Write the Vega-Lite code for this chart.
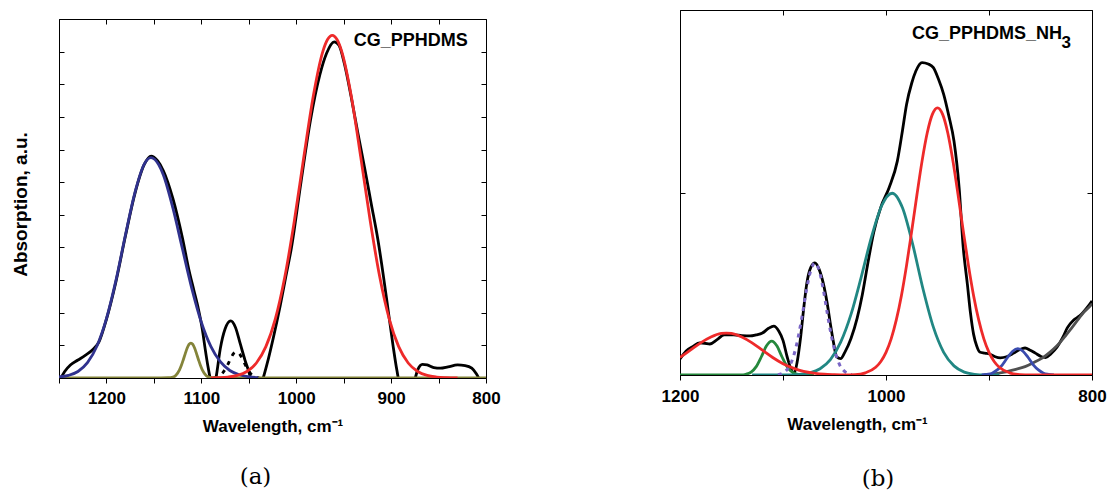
{
  "$schema": "https://vega.github.io/schema/vega-lite/v6.json",
  "padding": {"left": 11, "top": 9, "right": 0, "bottom": 0},
  "background": "white",
  "spacing": 160,
  "config": {
    "view": {"stroke": null},
    "axis": {
      "domainColor": "#000", "domainWidth": 1, "tickColor": "#000", "tickWidth": 1,
      "labelFont": "Liberation Sans", "titleFont": "Liberation Sans",
      "labelFontSize": 17, "titleFontSize": 17, "labelFontWeight": "bold", "titleFontWeight": "bold",
      "labelColor": "#000", "titleColor": "#000", "grid": false, "labelFlush": false, "labelOverlap": false
    }
  },
  "datasets": {
    "a_exp": [
      {"wn":1248,"abs":0},{"wn":1244,"abs":0.2},{"wn":1238,"abs":0.4},{"wn":1230,"abs":0.55},{"wn":1222,"abs":0.7},{"wn":1214,"abs":0.88},{"wn":1208,"abs":1.1},{"wn":1200,"abs":1.8},{"wn":1190,"abs":2.95},{"wn":1180,"abs":4.35},{"wn":1170,"abs":5.65},{"wn":1160,"abs":6.55},{"wn":1153,"abs":6.8},{"wn":1146,"abs":6.65},{"wn":1140,"abs":6.35},{"wn":1130,"abs":5.5},{"wn":1120,"abs":4.3},{"wn":1113,"abs":3.3},{"wn":1108,"abs":2.7},{"wn":1103,"abs":2.1},{"wn":1099,"abs":1.5},{"wn":1096,"abs":0.9},{"wn":1093,"abs":0.35},{"wn":1090,"abs":-0.1},{"wn":1087,"abs":-0.4},{"wn":1084,"abs":0.1},{"wn":1080,"abs":0.9},{"wn":1075,"abs":1.5},{"wn":1069,"abs":1.75},{"wn":1064,"abs":1.55},{"wn":1059,"abs":1.05},{"wn":1054,"abs":0.55},{"wn":1050,"abs":0.2},{"wn":1047,"abs":-0.1},{"wn":1042,"abs":-0.5},{"wn":1037,"abs":-0.2},{"wn":1031,"abs":0.4},{"wn":1024,"abs":1.25},{"wn":1017,"abs":2.2},{"wn":1011,"abs":3.1},{"wn":1005,"abs":4.0},{"wn":995,"abs":6.0},{"wn":985,"abs":7.9},{"wn":975,"abs":9.3},{"wn":968,"abs":9.95},{"wn":960,"abs":10.3},{"wn":955,"abs":10.2},{"wn":949,"abs":9.6},{"wn":942,"abs":8.6},{"wn":935,"abs":7.5},{"wn":928,"abs":6.45},{"wn":921,"abs":5.35},{"wn":914,"abs":4.25},{"wn":908,"abs":3.1},{"wn":903,"abs":2.05},{"wn":898,"abs":1.0},{"wn":894,"abs":0.25},{"wn":890,"abs":-0.3},{"wn":882,"abs":-0.5},{"wn":876,"abs":-0.15},{"wn":872,"abs":0.25},{"wn":867,"abs":0.42},{"wn":862,"abs":0.4},{"wn":855,"abs":0.32},{"wn":848,"abs":0.3},{"wn":840,"abs":0.34},{"wn":830,"abs":0.4},{"wn":822,"abs":0.38},{"wn":815,"abs":0.3},{"wn":810,"abs":0.12},{"wn":806,"abs":-0.1},{"wn":800,"abs":-0.4}
    ],
    "a_dash": [
      {"wn":1087,"abs":0.01},{"wn":1081,"abs":0.06},{"wn":1075,"abs":0.26},{"wn":1072,"abs":0.42},{"wn":1069,"abs":0.6},{"wn":1066,"abs":0.75},{"wn":1063,"abs":0.8},{"wn":1060,"abs":0.75},{"wn":1057,"abs":0.6},{"wn":1054,"abs":0.42},{"wn":1051,"abs":0.26},{"wn":1045,"abs":0.06},{"wn":1039,"abs":0.01}
    ],
    "a_olive": [
      {"wn":1250,"abs":0},{"wn":1150,"abs":0},{"wn":1135,"abs":0.01},{"wn":1131,"abs":0.02},{"wn":1127,"abs":0.08},{"wn":1123,"abs":0.25},{"wn":1121,"abs":0.39},{"wn":1119,"abs":0.56},{"wn":1117,"abs":0.74},{"wn":1115,"abs":0.91},{"wn":1113,"abs":1.03},{"wn":1111,"abs":1.07},{"wn":1109,"abs":1.03},{"wn":1107,"abs":0.91},{"wn":1105,"abs":0.74},{"wn":1103,"abs":0.56},{"wn":1101,"abs":0.39},{"wn":1099,"abs":0.25},{"wn":1095,"abs":0.08},{"wn":1091,"abs":0.02},{"wn":1087,"abs":0.01},{"wn":1070,"abs":0},{"wn":800,"abs":0}
    ],
    "a_blue": [
      {"wn":1250,"abs":0.03},{"wn":1240,"abs":0.08},{"wn":1230,"abs":0.2},{"wn":1220,"abs":0.47},{"wn":1210,"abs":0.98},{"wn":1200,"abs":1.82},{"wn":1190,"abs":2.99},{"wn":1180,"abs":4.38},{"wn":1170,"abs":5.68},{"wn":1160,"abs":6.56},{"wn":1153,"abs":6.75},{"wn":1145,"abs":6.54},{"wn":1140,"abs":6.22},{"wn":1130,"abs":5.21},{"wn":1120,"abs":3.97},{"wn":1110,"abs":2.74},{"wn":1100,"abs":1.71},{"wn":1090,"abs":0.97},{"wn":1080,"abs":0.5},{"wn":1070,"abs":0.23},{"wn":1060,"abs":0.1},{"wn":1050,"abs":0.04},{"wn":1040,"abs":0.01}
    ],
    "a_red": [
      {"wn":1090,"abs":0},{"wn":1082,"abs":0.01},{"wn":1072,"abs":0.03},{"wn":1062,"abs":0.08},{"wn":1052,"abs":0.2},{"wn":1042,"abs":0.46},{"wn":1032,"abs":0.96},{"wn":1022,"abs":1.81},{"wn":1012,"abs":3.1},{"wn":1002,"abs":4.81},{"wn":992,"abs":6.77},{"wn":982,"abs":8.64},{"wn":972,"abs":10.0},{"wn":967,"abs":10.37},{"wn":962,"abs":10.5},{"wn":957,"abs":10.37},{"wn":952,"abs":10.0},{"wn":942,"abs":8.64},{"wn":932,"abs":6.77},{"wn":922,"abs":4.81},{"wn":912,"abs":3.1},{"wn":902,"abs":1.81},{"wn":892,"abs":0.96},{"wn":882,"abs":0.46},{"wn":872,"abs":0.2},{"wn":862,"abs":0.08},{"wn":852,"abs":0.03},{"wn":842,"abs":0.01},{"wn":830,"abs":0}
    ],
    "b_exp": [
      {"wn":1200,"abs":0.44},{"wn":1194,"abs":0.66},{"wn":1187,"abs":0.79},{"wn":1181,"abs":0.88},{"wn":1176,"abs":0.87},{"wn":1171,"abs":0.85},{"wn":1164,"abs":0.97},{"wn":1157,"abs":1.1},{"wn":1148,"abs":1.1},{"wn":1140,"abs":1.08},{"wn":1132,"abs":1.07},{"wn":1126,"abs":1.1},{"wn":1120,"abs":1.15},{"wn":1114,"abs":1.28},{"wn":1109,"abs":1.34},{"wn":1104,"abs":1.2},{"wn":1100,"abs":0.95},{"wn":1096,"abs":0.5},{"wn":1092,"abs":0.15},{"wn":1089,"abs":0.06},{"wn":1086,"abs":0.4},{"wn":1083,"abs":1.01},{"wn":1080,"abs":1.8},{"wn":1077,"abs":2.49},{"wn":1073,"abs":2.95},{"wn":1069,"abs":3.07},{"wn":1065,"abs":2.9},{"wn":1060,"abs":2.4},{"wn":1057,"abs":1.95},{"wn":1054,"abs":1.4},{"wn":1051,"abs":0.9},{"wn":1048,"abs":0.5},{"wn":1044,"abs":0.45},{"wn":1040,"abs":0.62},{"wn":1034,"abs":1.0},{"wn":1028,"abs":1.56},{"wn":1023,"abs":2.2},{"wn":1018,"abs":3.0},{"wn":1012,"abs":3.9},{"wn":1005,"abs":4.6},{"wn":997,"abs":5.13},{"wn":989,"abs":5.86},{"wn":984,"abs":6.7},{"wn":980,"abs":7.42},{"wn":975,"abs":8.0},{"wn":971,"abs":8.33},{"wn":965,"abs":8.56},{"wn":959,"abs":8.52},{"wn":954,"abs":8.42},{"wn":949,"abs":8.1},{"wn":944,"abs":7.69},{"wn":939,"abs":7.1},{"wn":934,"abs":6.41},{"wn":929,"abs":5.13},{"wn":925,"abs":3.49},{"wn":921,"abs":2.49},{"wn":918,"abs":1.7},{"wn":915,"abs":1.12},{"wn":912,"abs":0.8},{"wn":909,"abs":0.63},{"wn":904,"abs":0.6},{"wn":899,"abs":0.57},{"wn":894,"abs":0.5},{"wn":889,"abs":0.47},{"wn":883,"abs":0.5},{"wn":876,"abs":0.6},{"wn":870,"abs":0.7},{"wn":865,"abs":0.74},{"wn":860,"abs":0.68},{"wn":855,"abs":0.6},{"wn":849,"abs":0.5},{"wn":845,"abs":0.48},{"wn":840,"abs":0.58},{"wn":834,"abs":0.76},{"wn":828,"abs":1.05},{"wn":824,"abs":1.29},{"wn":818,"abs":1.5},{"wn":812,"abs":1.62},{"wn":805,"abs":1.84},{"wn":800,"abs":2.03}
    ],
    "b_gray": [
      {"wn":905,"abs":0},{"wn":895,"abs":0.03},{"wn":885,"abs":0.08},{"wn":875,"abs":0.15},{"wn":865,"abs":0.23},{"wn":856,"abs":0.35},{"wn":848,"abs":0.47},{"wn":841,"abs":0.62},{"wn":834,"abs":0.8},{"wn":827,"abs":1.03},{"wn":820,"abs":1.28},{"wn":814,"abs":1.5},{"wn":808,"abs":1.72},{"wn":804,"abs":1.83},{"wn":800,"abs":1.95}
    ],
    "b_green": [
      {"wn":1200,"abs":0},{"wn":1141,"abs":0},{"wn":1136,"abs":0.02},{"wn":1131,"abs":0.08},{"wn":1126,"abs":0.23},{"wn":1121,"abs":0.5},{"wn":1116,"abs":0.8},{"wn":1111,"abs":0.93},{"wn":1106,"abs":0.8},{"wn":1101,"abs":0.5},{"wn":1096,"abs":0.23},{"wn":1091,"abs":0.08},{"wn":1086,"abs":0.02},{"wn":1081,"abs":0},{"wn":1070,"abs":0}
    ],
    "b_teal": [
      {"wn":1130,"abs":0},{"wn":1094,"abs":0},{"wn":1084,"abs":0.02},{"wn":1074,"abs":0.06},{"wn":1064,"abs":0.17},{"wn":1054,"abs":0.42},{"wn":1044,"abs":0.9},{"wn":1034,"abs":1.66},{"wn":1024,"abs":2.69},{"wn":1014,"abs":3.79},{"wn":1004,"abs":4.65},{"wn":994,"abs":4.98},{"wn":984,"abs":4.58},{"wn":974,"abs":3.57},{"wn":964,"abs":2.35},{"wn":954,"abs":1.31},{"wn":944,"abs":0.62},{"wn":934,"abs":0.25},{"wn":924,"abs":0.08},{"wn":914,"abs":0.02},{"wn":904,"abs":0},{"wn":890,"abs":0}
    ],
    "b_purple": [
      {"wn":1105,"abs":0.01},{"wn":1101,"abs":0.04},{"wn":1097,"abs":0.12},{"wn":1093,"abs":0.28},{"wn":1089,"abs":0.59},{"wn":1085,"abs":1.07},{"wn":1081,"abs":1.69},{"wn":1077,"abs":2.36},{"wn":1073,"abs":2.87},{"wn":1069,"abs":3.07},{"wn":1065,"abs":2.87},{"wn":1061,"abs":2.36},{"wn":1057,"abs":1.69},{"wn":1053,"abs":1.07},{"wn":1049,"abs":0.59},{"wn":1045,"abs":0.28},{"wn":1041,"abs":0.12},{"wn":1037,"abs":0.04},{"wn":1033,"abs":0.01}
    ],
    "b_blue": [
      {"wn":907,"abs":0},{"wn":902,"abs":0.02},{"wn":897,"abs":0.05},{"wn":892,"abs":0.14},{"wn":887,"abs":0.28},{"wn":882,"abs":0.48},{"wn":877,"abs":0.65},{"wn":872,"abs":0.72},{"wn":867,"abs":0.65},{"wn":862,"abs":0.48},{"wn":857,"abs":0.28},{"wn":852,"abs":0.14},{"wn":847,"abs":0.05},{"wn":842,"abs":0.02},{"wn":837,"abs":0}
    ],
    "b_red": [
      {"wn":1200,"abs":0.48},{"wn":1190,"abs":0.68},{"wn":1180,"abs":0.88},{"wn":1170,"abs":1.04},{"wn":1160,"abs":1.14},{"wn":1155,"abs":1.15},{"wn":1150,"abs":1.14},{"wn":1140,"abs":1.04},{"wn":1130,"abs":0.88},{"wn":1120,"abs":0.68},{"wn":1110,"abs":0.48},{"wn":1100,"abs":0.31},{"wn":1090,"abs":0.19},{"wn":1080,"abs":0.1},{"wn":1070,"abs":0.05},{"wn":1060,"abs":0.02},{"wn":1050,"abs":0.01},{"wn":1040,"abs":0.005},{"wn":1030,"abs":0.01},{"wn":1020,"abs":0.06},{"wn":1010,"abs":0.21},{"wn":1005,"abs":0.37},{"wn":1000,"abs":0.62},{"wn":995,"abs":0.99},{"wn":990,"abs":1.51},{"wn":985,"abs":2.18},{"wn":980,"abs":3.01},{"wn":975,"abs":3.95},{"wn":970,"abs":4.93},{"wn":965,"abs":5.86},{"wn":960,"abs":6.63},{"wn":955,"abs":7.14},{"wn":950,"abs":7.32},{"wn":945,"abs":7.14},{"wn":940,"abs":6.63},{"wn":935,"abs":5.86},{"wn":930,"abs":4.93},{"wn":925,"abs":3.95},{"wn":920,"abs":3.01},{"wn":915,"abs":2.18},{"wn":910,"abs":1.51},{"wn":905,"abs":0.99},{"wn":900,"abs":0.62},{"wn":895,"abs":0.37},{"wn":890,"abs":0.21},{"wn":880,"abs":0.06},{"wn":870,"abs":0.01},{"wn":860,"abs":0},{"wn":800,"abs":0}
    ]
  },
  "hconcat": [
    {
      "width": 427,
      "height": 368,
      "title": {"text": "(a)", "orient": "bottom", "font": "DejaVu Serif", "fontSize": 23, "fontWeight": "normal", "color": "#000", "frame": "group", "anchor": "middle", "dx": -17, "offset": 32},
      "resolve": {"axis": {"x": "independent", "y": "independent"}},
      "layer": [
        {
          "data": {"name": "a_exp"},
          "mark": {"type": "line", "color": "#000", "strokeWidth": 2.8, "interpolate": "monotone", "clip": true},
          "encoding": {
            "x": {"field": "wn", "type": "quantitative", "scale": {"domain": [800, 1250], "reverse": true, "nice": false, "zero": false},
                  "axis": {"orient": "bottom", "values": [1250,1200,1150,1100,1050,1000,950,900,850,800], "format": "d", "labelExpr": "datum.value % 100 === 0 ? datum.label : ''", "tickSize": 5, "labelPadding": 7, "title": "Wavelength, cm⁻¹", "titleY": 48, "titleBaseline": "middle"}},
            "y": {"field": "abs", "type": "quantitative", "scale": {"domain": [0, 11], "nice": false, "range": [368, 9]},
                  "axis": {"orient": "left", "values": [0,1,2,3,4,5,6,7,8,9,10,11], "labels": false, "tickSize": -5, "title": "Absorption, a.u.", "titleFontSize": 19, "titlePadding": 28, "titleY": 194}}
          }
        },
        {
          "data": {"name": "a_dash"},
          "mark": {"type": "line", "color": "#000", "strokeWidth": 2.8, "strokeDash": [4, 6], "interpolate": "monotone", "clip": true},
          "encoding": {
            "x": {"field": "wn", "type": "quantitative", "scale": {"domain": [800, 1250], "reverse": true, "nice": false, "zero": false},
                  "axis": {"orient": "top", "offset": -9, "values": [1250,1200,1150,1100,1050,1000,950,900,850,800], "labels": false, "tickSize": -5, "title": null}},
            "y": {"field": "abs", "type": "quantitative", "scale": {"domain": [0, 11], "nice": false, "range": [368, 9]},
                  "axis": {"orient": "right", "values": [0,1,2,3,4,5,6,7,8,9,10,11], "labels": false, "tickSize": -5, "title": null}}
          }
        },
        {
          "data": {"name": "a_olive"},
          "mark": {"type": "line", "color": "#84843A", "strokeWidth": 2.8, "interpolate": "monotone", "clip": true},
          "encoding": {
            "x": {"field": "wn", "type": "quantitative", "scale": {"domain": [800, 1250], "reverse": true, "nice": false, "zero": false}, "axis": null},
            "y": {"field": "abs", "type": "quantitative", "scale": {"domain": [0, 11], "nice": false, "range": [368, 9]}, "axis": null}
          }
        },
        {
          "data": {"name": "a_blue"},
          "mark": {"type": "line", "color": "#30328E", "strokeWidth": 2.8, "interpolate": "monotone", "clip": true},
          "encoding": {
            "x": {"field": "wn", "type": "quantitative", "scale": {"domain": [800, 1250], "reverse": true, "nice": false, "zero": false}, "axis": null},
            "y": {"field": "abs", "type": "quantitative", "scale": {"domain": [0, 11], "nice": false, "range": [368, 9]}, "axis": null}
          }
        },
        {
          "data": {"name": "a_red"},
          "mark": {"type": "line", "color": "#EE2A2A", "strokeWidth": 2.8, "interpolate": "monotone", "clip": true},
          "encoding": {
            "x": {"field": "wn", "type": "quantitative", "scale": {"domain": [800, 1250], "reverse": true, "nice": false, "zero": false}, "axis": null},
            "y": {"field": "abs", "type": "quantitative", "scale": {"domain": [0, 11], "nice": false, "range": [368, 9]}, "axis": null}
          }
        },
        {
          "data": {"values": [{"label": "CG_PPHDMS"}]},
          "mark": {"type": "text", "align": "left", "baseline": "alphabetic", "font": "Liberation Sans", "fontWeight": "bold", "fontSize": 18, "color": "#000"},
          "encoding": {
            "x": {"datum": 939.5, "type": "quantitative", "scale": {"domain": [800, 1250], "reverse": true, "nice": false, "zero": false}, "axis": null},
            "y": {"datum": 10.17, "type": "quantitative", "scale": {"domain": [0, 11], "nice": false, "range": [368, 9]}, "axis": null},
            "text": {"field": "label"}
          }
        }
      ]
    },
    {
      "width": 412,
      "height": 365,
      "title": {"text": "(b)", "orient": "bottom", "font": "DejaVu Serif", "fontSize": 23, "fontWeight": "normal", "color": "#000", "frame": "group", "anchor": "middle", "dx": -8, "offset": 36},
      "resolve": {"axis": {"x": "independent", "y": "independent"}},
      "layer": [
        {
          "data": {"name": "b_exp"},
          "mark": {"type": "line", "color": "#000", "strokeWidth": 2.8, "interpolate": "monotone", "clip": true},
          "encoding": {
            "x": {"field": "wn", "type": "quantitative", "scale": {"domain": [800, 1200], "reverse": true, "nice": false, "zero": false},
                  "axis": {"orient": "bottom", "values": [1200,1100,1000,900,800], "format": "d", "labelExpr": "datum.value % 200 === 0 ? datum.label : ''", "tickSize": 5, "labelPadding": 8, "title": "Wavelength, cm⁻¹", "titleX": 177, "titleY": 49, "titleBaseline": "middle"}},
            "y": {"field": "abs", "type": "quantitative", "scale": {"domain": [0, 10], "nice": false},
                  "axis": {"orient": "left", "values": [0,5,10], "labels": false, "tickSize": -5, "title": null}}
          }
        },
        {
          "data": {"name": "b_gray"},
          "mark": {"type": "line", "color": "#505050", "strokeWidth": 2.8, "interpolate": "monotone", "clip": true},
          "encoding": {
            "x": {"field": "wn", "type": "quantitative", "scale": {"domain": [800, 1200], "reverse": true, "nice": false, "zero": false},
                  "axis": {"orient": "top", "values": [1200,1100,1000,900,800], "labels": false, "tickSize": -5, "title": null}},
            "y": {"field": "abs", "type": "quantitative", "scale": {"domain": [0, 10], "nice": false},
                  "axis": {"orient": "right", "values": [0,5,10], "labels": false, "tickSize": -5, "title": null}}
          }
        },
        {
          "data": {"name": "b_green"},
          "mark": {"type": "line", "color": "#25883C", "strokeWidth": 2.8, "interpolate": "monotone", "clip": true},
          "encoding": {
            "x": {"field": "wn", "type": "quantitative", "scale": {"domain": [800, 1200], "reverse": true, "nice": false, "zero": false}, "axis": null},
            "y": {"field": "abs", "type": "quantitative", "scale": {"domain": [0, 10], "nice": false}, "axis": null}
          }
        },
        {
          "data": {"name": "b_teal"},
          "mark": {"type": "line", "color": "#218783", "strokeWidth": 2.8, "interpolate": "monotone", "clip": true},
          "encoding": {
            "x": {"field": "wn", "type": "quantitative", "scale": {"domain": [800, 1200], "reverse": true, "nice": false, "zero": false}, "axis": null},
            "y": {"field": "abs", "type": "quantitative", "scale": {"domain": [0, 10], "nice": false}, "axis": null}
          }
        },
        {
          "data": {"name": "b_purple"},
          "mark": {"type": "line", "color": "#7A66C6", "strokeWidth": 3, "strokeDash": [4, 5], "interpolate": "monotone", "clip": true},
          "encoding": {
            "x": {"field": "wn", "type": "quantitative", "scale": {"domain": [800, 1200], "reverse": true, "nice": false, "zero": false}, "axis": null},
            "y": {"field": "abs", "type": "quantitative", "scale": {"domain": [0, 10], "nice": false}, "axis": null}
          }
        },
        {
          "data": {"name": "b_blue"},
          "mark": {"type": "line", "color": "#3A4BAE", "strokeWidth": 2.8, "interpolate": "monotone", "clip": true},
          "encoding": {
            "x": {"field": "wn", "type": "quantitative", "scale": {"domain": [800, 1200], "reverse": true, "nice": false, "zero": false}, "axis": null},
            "y": {"field": "abs", "type": "quantitative", "scale": {"domain": [0, 10], "nice": false}, "axis": null}
          }
        },
        {
          "data": {"name": "b_red"},
          "mark": {"type": "line", "color": "#EE2A2A", "strokeWidth": 2.8, "interpolate": "monotone", "clip": true},
          "encoding": {
            "x": {"field": "wn", "type": "quantitative", "scale": {"domain": [800, 1200], "reverse": true, "nice": false, "zero": false}, "axis": null},
            "y": {"field": "abs", "type": "quantitative", "scale": {"domain": [0, 10], "nice": false}, "axis": null}
          }
        },
        {
          "data": {"values": [{"label": "CG_PPHDMS_NH"}]},
          "mark": {"type": "text", "align": "left", "baseline": "alphabetic", "font": "Liberation Sans", "fontWeight": "bold", "fontSize": 18, "color": "#000"},
          "encoding": {
            "x": {"datum": 974.8, "type": "quantitative", "scale": {"domain": [800, 1200], "reverse": true, "nice": false, "zero": false}, "axis": null},
            "y": {"datum": 9.2, "type": "quantitative", "scale": {"domain": [0, 10], "nice": false}, "axis": null},
            "text": {"field": "label"}
          }
        },
        {
          "data": {"values": [{"label": "3"}]},
          "mark": {"type": "text", "align": "left", "baseline": "alphabetic", "font": "Liberation Sans", "fontWeight": "bold", "fontSize": 17, "color": "#000"},
          "encoding": {
            "x": {"datum": 829.5, "type": "quantitative", "scale": {"domain": [800, 1200], "reverse": true, "nice": false, "zero": false}, "axis": null},
            "y": {"datum": 8.97, "type": "quantitative", "scale": {"domain": [0, 10], "nice": false}, "axis": null},
            "text": {"field": "label"}
          }
        }
      ]
    }
  ]
}
